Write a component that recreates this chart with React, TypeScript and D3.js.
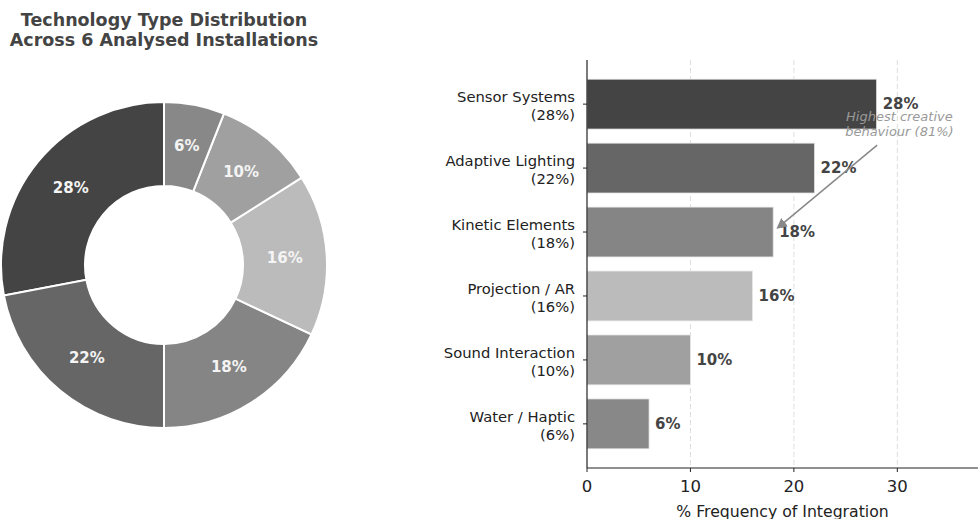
import React from "react";
import * as d3 from "d3";

const categories = ["Sensor Systems", "Adaptive Lighting", "Kinetic Elements", "Projection / AR", "Sound Interaction", "Water / Haptic"];
const values = [28, 22, 18, 16, 10, 6];
const colors = ["#444444", "#666666", "#858585", "#bbbbbb", "#a0a0a0", "#888888"];
const xTicks = [0, 10, 20, 30];
const titleLines = ["Technology Type Distribution", "Across 6 Analysed Installations"];
const annotationLines = ["Highest creative", "behaviour (81%)"];
const xLabel = "% Frequency of Integration";

const FONT = "'DejaVu Sans', Verdana, sans-serif";

export default function App() {
  const W = 978, H = 519;

  // Donut
  const cx = 164, cy = 265, rOuter = 163, rInner = 79;
  const pie = d3.pie<number>().sort(null).startAngle(0).endAngle(-2 * Math.PI);
  const arcs = pie(values);
  const arcGen = d3.arc<d3.PieArcDatum<number>>().innerRadius(rInner).outerRadius(rOuter);
  const labelArc = d3.arc<d3.PieArcDatum<number>>().innerRadius((rInner + rOuter) / 2).outerRadius((rInner + rOuter) / 2);

  // Bars
  const x = d3.scaleLinear().domain([0, 37.8]).range([587, 978]);
  const y = d3.scaleLinear().domain([-0.69, 5.69]).range([60, 468]);
  const bh = 0.78;

  return (
    <svg width={W} height={H} style={{ position: "absolute", left: 0, top: 0, background: "#fff" }} fontFamily={FONT}>
      {/* Title */}
      {titleLines.map((t, i) => (
        <text key={i} x={cx} y={26 + i * 20} textAnchor="middle" fontSize={17.5} fontWeight="bold" fill="#444">{t}</text>
      ))}
      {/* Donut */}
      <g transform={`translate(${cx},${cy})`}>
        {arcs.map((a, i) => (
          <path key={i} d={arcGen(a) || ""} fill={colors[i]} stroke="#fff" strokeWidth={2} />
        ))}
        {arcs.map((a, i) => {
          const [lx, ly] = labelArc.centroid(a);
          return (
            <text key={i} x={lx} y={ly} dy="0.35em" textAnchor="middle" fontSize={15} fontWeight="bold" fill="#f4f4f4">{values[i]}%</text>
          );
        })}
      </g>

      {/* Grid */}
      {xTicks.filter(t => t > 0).map(t => (
        <line key={t} x1={x(t)} x2={x(t)} y1={y(-0.69)} y2={y(5.69)} stroke="#dddddd" strokeWidth={1} strokeDasharray="5,3" />
      ))}

      {/* Bars */}
      {values.map((v, i) => (
        <rect key={i} x={x(0)} y={y(i - bh / 2)} width={x(v) - x(0)} height={y(i + bh / 2) - y(i - bh / 2)} fill={colors[i]} stroke="#e6e6e6" strokeWidth={0.8} />
      ))}
      {values.map((v, i) => (
        <text key={i} x={x(v) + 6} y={y(i)} dy="0.35em" fontSize={15} fontWeight="bold" fill="#444">{v}%</text>
      ))}

      {/* Axes */}
      <line x1={x(0)} x2={x(0)} y1={y(-0.69)} y2={y(5.69)} stroke="#222" strokeWidth={1.2} />
      <line x1={x(0)} x2={x(37.8)} y1={y(5.69)} y2={y(5.69)} stroke="#222" strokeWidth={1.2} />
      {categories.map((c, i) => (
        <g key={i}>
          <line x1={x(0) - 4} x2={x(0)} y1={y(i)} y2={y(i)} stroke="#222" strokeWidth={1} />
          <text x={x(0) - 12} y={y(i) - 2} textAnchor="end" fontSize={14.75} fill="#222">{c}</text>
          <text x={x(0) - 12} y={y(i) + 16} textAnchor="end" fontSize={14.75} fill="#222">({values[i]}%)</text>
        </g>
      ))}
      {xTicks.map(t => (
        <g key={t}>
          <line x1={x(t)} x2={x(t)} y1={y(5.69)} y2={y(5.69) + 4} stroke="#222" strokeWidth={1} />
          <text x={x(t)} y={y(5.69) + 24} textAnchor="middle" fontSize={16.5} fill="#222">{t}</text>
        </g>
      ))}
      <text x={(x(0) + x(37.8)) / 2} y={517} textAnchor="middle" fontSize={15.7} fill="#222">{xLabel}</text>

      {/* Annotation */}
      <defs>
        <marker id="arr" viewBox="0 0 10 10" refX="9" refY="5" markerWidth="7" markerHeight="7" orient="auto-start-reverse">
          <path d="M0,0 L10,5 L0,10 z" fill="#888" />
        </marker>
      </defs>
      <line x1={x(28.05)} y1={y(0.64)} x2={x(18.4)} y2={y(1.94)} stroke="#888" strokeWidth={1.5} markerEnd="url(#arr)" />
      {annotationLines.map((t, i) => (
        <text key={i} x={x(30.2)} y={y(0.2) + i * 15} dy="0.35em" textAnchor="middle" fontSize={13} fontStyle="italic" fill="#999">{t}</text>
      ))}
    </svg>
  );
}
